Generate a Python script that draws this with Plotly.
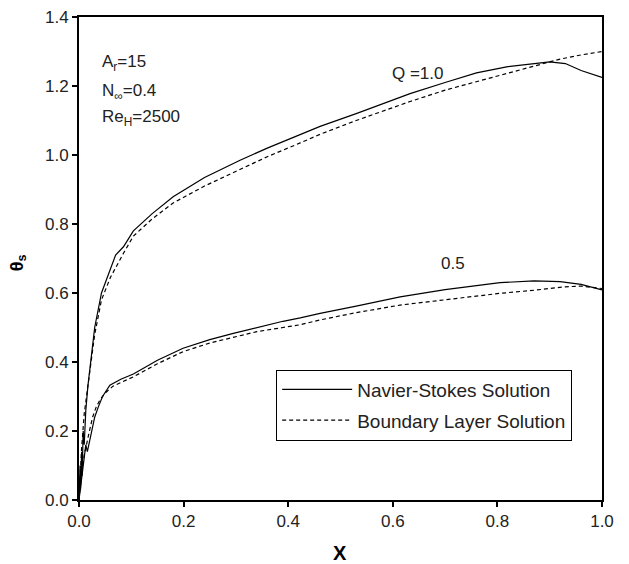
import plotly.graph_objects as go

# Q = 1.0
x_q1_ns = [0, 0.002, 0.003, 0.005, 0.006, 0.008, 0.01, 0.013, 0.017, 0.022, 0.03, 0.043, 0.059, 0.07, 0.085, 0.104,
           0.14, 0.18, 0.24, 0.308, 0.36, 0.423, 0.461, 0.53, 0.633, 0.7, 0.76, 0.82, 0.868, 0.9, 0.93, 0.96, 1.0]
y_q1_ns = [0, 0.1, 0.03, 0.14, 0.07, 0.2, 0.16, 0.26, 0.33, 0.4, 0.5, 0.6, 0.667, 0.71, 0.734, 0.78,
           0.83, 0.879, 0.935, 0.985, 1.02, 1.06, 1.083, 1.12, 1.178, 1.21, 1.238, 1.256, 1.265, 1.27, 1.265, 1.245,
           1.225]
x_q1_bl = [0, 0.005, 0.01, 0.015, 0.022, 0.03, 0.043, 0.06, 0.085, 0.104, 0.14, 0.18, 0.24, 0.308, 0.36, 0.423,
           0.461, 0.53, 0.633, 0.7, 0.76, 0.82, 0.868, 0.92, 0.96, 1.0]
y_q1_bl = [0, 0.15, 0.25, 0.31, 0.39, 0.48, 0.58, 0.645, 0.715, 0.765, 0.815, 0.861, 0.91, 0.958, 0.995, 1.035,
           1.06, 1.1, 1.155, 1.188, 1.213, 1.238, 1.258, 1.278, 1.29, 1.30]

# Q = 0.5
x_q05_ns = [0, 0.005, 0.009, 0.013, 0.016, 0.02, 0.024, 0.03, 0.037, 0.045, 0.059, 0.08, 0.104, 0.15, 0.199, 0.25,
            0.295, 0.34, 0.39, 0.423, 0.461, 0.53, 0.614, 0.7, 0.805, 0.87, 0.92, 0.96, 1.0]
y_q05_ns = [0, 0.06, 0.1, 0.16, 0.14, 0.17, 0.2, 0.24, 0.27, 0.3, 0.333, 0.35, 0.365, 0.405, 0.44, 0.465,
            0.483, 0.5, 0.518, 0.528, 0.541, 0.562, 0.589, 0.61, 0.63, 0.635, 0.633, 0.625, 0.609]
x_q05_bl = [0, 0.005, 0.01, 0.015, 0.02, 0.026, 0.033, 0.04, 0.05, 0.065, 0.085, 0.104, 0.15, 0.199, 0.25, 0.295,
            0.34, 0.39, 0.423, 0.461, 0.53, 0.614, 0.7, 0.805, 0.87, 0.93, 0.96, 1.0]
y_q05_bl = [0, 0.08, 0.13, 0.17, 0.2, 0.24, 0.27, 0.29, 0.31, 0.33, 0.345, 0.357, 0.395, 0.43, 0.455, 0.472,
            0.488, 0.5, 0.508, 0.522, 0.543, 0.565, 0.58, 0.599, 0.608, 0.618, 0.62, 0.613]

x_ticks = [0.0, 0.2, 0.4, 0.6, 0.8, 1.0]
y_ticks = [0.0, 0.2, 0.4, 0.6, 0.8, 1.0, 1.2, 1.4]

FONT = "Liberation Sans, Arial, sans-serif"
TXT = "#222"
solid = dict(color="black", width=1.2)
dashed = dict(color="black", width=1.2, dash="4px,3px")

fig = go.Figure()
fig.add_trace(go.Scatter(x=x_q1_ns, y=y_q1_ns, mode="lines", line=solid,
                         name="Navier-Stokes Solution", legendgroup="ns"))
fig.add_trace(go.Scatter(x=x_q1_bl, y=y_q1_bl, mode="lines", line=dashed,
                         name="Boundary Layer Solution", legendgroup="bl"))
fig.add_trace(go.Scatter(x=x_q05_ns, y=y_q05_ns, mode="lines", line=solid,
                         name="Navier-Stokes Solution", legendgroup="ns", showlegend=False))
fig.add_trace(go.Scatter(x=x_q05_bl, y=y_q05_bl, mode="lines", line=dashed,
                         name="Boundary Layer Solution", legendgroup="bl", showlegend=False))

fig.add_annotation(x=0.648, y=1.235, text="Q =1.0", showarrow=False,
                   font=dict(size=17, color=TXT))
fig.add_annotation(x=0.715, y=0.686, text="0.5", showarrow=False,
                   font=dict(size=17, color=TXT))
params = ["A<sub>r</sub>=15", "N<sub>∞</sub>=0.4", "Re<sub>H</sub>=2500"]
param_y = [1.267, 1.183, 1.107]
for t, yy in zip(params, param_y):
    fig.add_annotation(x=0.04, y=yy, xanchor="left", yanchor="middle", showarrow=False,
                       text=t, font=dict(size=17, color=TXT))

# axis titles
fig.add_annotation(xref="paper", yref="paper", x=0.499, y=-0.11, xanchor="center", yanchor="middle",
                   text="<b>X</b>", showarrow=False, font=dict(family=FONT, size=20, color="black"))
fig.add_annotation(xref="paper", yref="paper", x=-0.1166, y=0.49, xanchor="center", yanchor="middle",
                   text="<b>θ<sub>s</sub></b>", textangle=-90, showarrow=False,
                   font=dict(family=FONT, size=18, color="black"))

axis_common = dict(showline=True, linecolor="black", linewidth=2, mirror=True,
                   ticks="outside", ticklen=5, tickwidth=1.5, tickcolor="black",
                   showgrid=False, zeroline=False, automargin=False,
                   tickfont=dict(family=FONT, size=17, color=TXT))

fig.update_xaxes(range=[0, 1.0], tickvals=x_ticks, ticktext=[f"{v:.1f}" for v in x_ticks],
                 **axis_common)
fig.update_yaxes(range=[0, 1.4], tickvals=y_ticks, ticktext=[f"{v:.1f}" for v in y_ticks],
                 **axis_common)

fig.update_layout(
    width=629, height=564,
    margin=dict(l=79, r=27, t=17, b=64),
    paper_bgcolor="white", plot_bgcolor="white",
    font=dict(family=FONT, size=17, color=TXT),
    showlegend=True,
    legend=dict(x=0.377, y=0.27, xanchor="left", yanchor="top",
                bordercolor="black", borderwidth=1, bgcolor="white",
                font=dict(family=FONT, size=19, color=TXT),
                itemwidth=70, tracegroupgap=3),
)

fig.write_html("out.html")
